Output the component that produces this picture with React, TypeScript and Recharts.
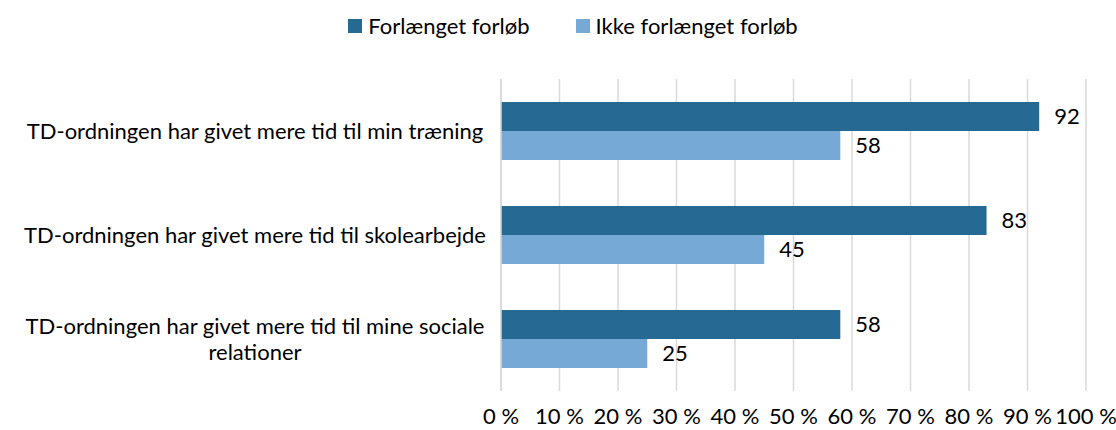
import { BarChart, Bar, XAxis, YAxis, CartesianGrid, LabelList } from 'recharts';

const categories = [
  'TD-ordningen har givet mere tid til min træning',
  'TD-ordningen har givet mere tid til skolearbejde',
  'TD-ordningen har givet mere tid til mine sociale relationer',
];
const forlaenget = [92, 83, 58];
const ikkeForlaenget = [58, 45, 25];
const xTicks = [0, 10, 20, 30, 40, 50, 60, 70, 80, 90, 100];

const seriesNames = ['Forlænget forløb', 'Ikke forlænget forløb'];
const colors = ['#266A93', '#77A9D6'];

const data = categories.map((name, i) => ({
  name,
  a: forlaenget[i],
  b: ikkeForlaenget[i],
}));

const FONT = 'Lato, sans-serif';
const FS = 22;

// wrap long category names onto two lines, like the original
const wrap = (s: string, max: number) => {
  const words = s.split(' ');
  const lines: string[] = [];
  let cur = '';
  words.forEach(w => {
    const next = cur ? cur + ' ' + w : w;
    if (next.length > max && cur) {
      lines.push(cur);
      cur = w;
    } else cur = next;
  });
  if (cur) lines.push(cur);
  return lines;
};

const CategoryTick = ({ y, payload }: any) => {
  const lines = wrap(payload.value, 50);
  const lh = 26;
  const start = y - ((lines.length - 1) * lh) / 2;
  return (
    <text x={255} textAnchor="middle" fontSize={FS} fontFamily={FONT} fill="#000">
      {lines.map((l, i) => (
        <tspan key={i} x={255} y={start + i * lh} dy="0.36em">{l}</tspan>
      ))}
    </text>
  );
};

const PercentTick = ({ x, y, payload }: any) => (
  <text x={x} y={y + 17} dy="0.36em" textAnchor="middle" fontSize={FS} fontFamily={FONT} fill="#000">
    {`${payload.value} %`}
  </text>
);

export default function App() {
  return (
    <div style={{ position: 'absolute', left: 0, top: 0, width: 1116, height: 430, background: '#fff' }}>
      <div
        style={{
          position: 'absolute', top: 12, left: 0, width: 1116, display: 'flex', justifyContent: 'center',
          gap: 46, fontFamily: FONT, fontSize: FS, color: '#000', paddingLeft: 30, boxSizing: 'border-box',
        }}
      >
        {seriesNames.map((n, i) => (
          <div key={n} style={{ display: 'flex', alignItems: 'center', gap: 6 }}>
            <span style={{ width: 14, height: 14, background: colors[i], display: 'inline-block' }} />
            <span>{n}</span>
          </div>
        ))}
      </div>
      <BarChart
        width={1116}
        height={430}
        data={data}
        layout="vertical"
        margin={{ top: 79, right: 30, bottom: 9, left: 0 }}
        barCategoryGap="22%"
        barGap={0}
      >
        <CartesianGrid horizontal={false} stroke="#d9d9d9" strokeWidth={1.5} />
        <XAxis
          type="number"
          domain={[0, 100]}
          ticks={xTicks}
          axisLine={false}
          tickLine={false}
          height={30}
          tick={<PercentTick />}
          interval={0}
        />
        <YAxis
          type="category"
          dataKey="name"
          width={501}
          axisLine={{ stroke: '#d9d9d9', strokeWidth: 1.5 }}
          tickLine={false}
          tick={<CategoryTick />}
        />
        <Bar dataKey="a" name={seriesNames[0]} fill={colors[0]} isAnimationActive={false}>
          <LabelList dataKey="a" position="right" offset={15} fontSize={FS} fontFamily={FONT} fill="#000" />
        </Bar>
        <Bar dataKey="b" name={seriesNames[1]} fill={colors[1]} isAnimationActive={false}>
          <LabelList dataKey="b" position="right" offset={15} fontSize={FS} fontFamily={FONT} fill="#000" />
        </Bar>
      </BarChart>
    </div>
  );
}
